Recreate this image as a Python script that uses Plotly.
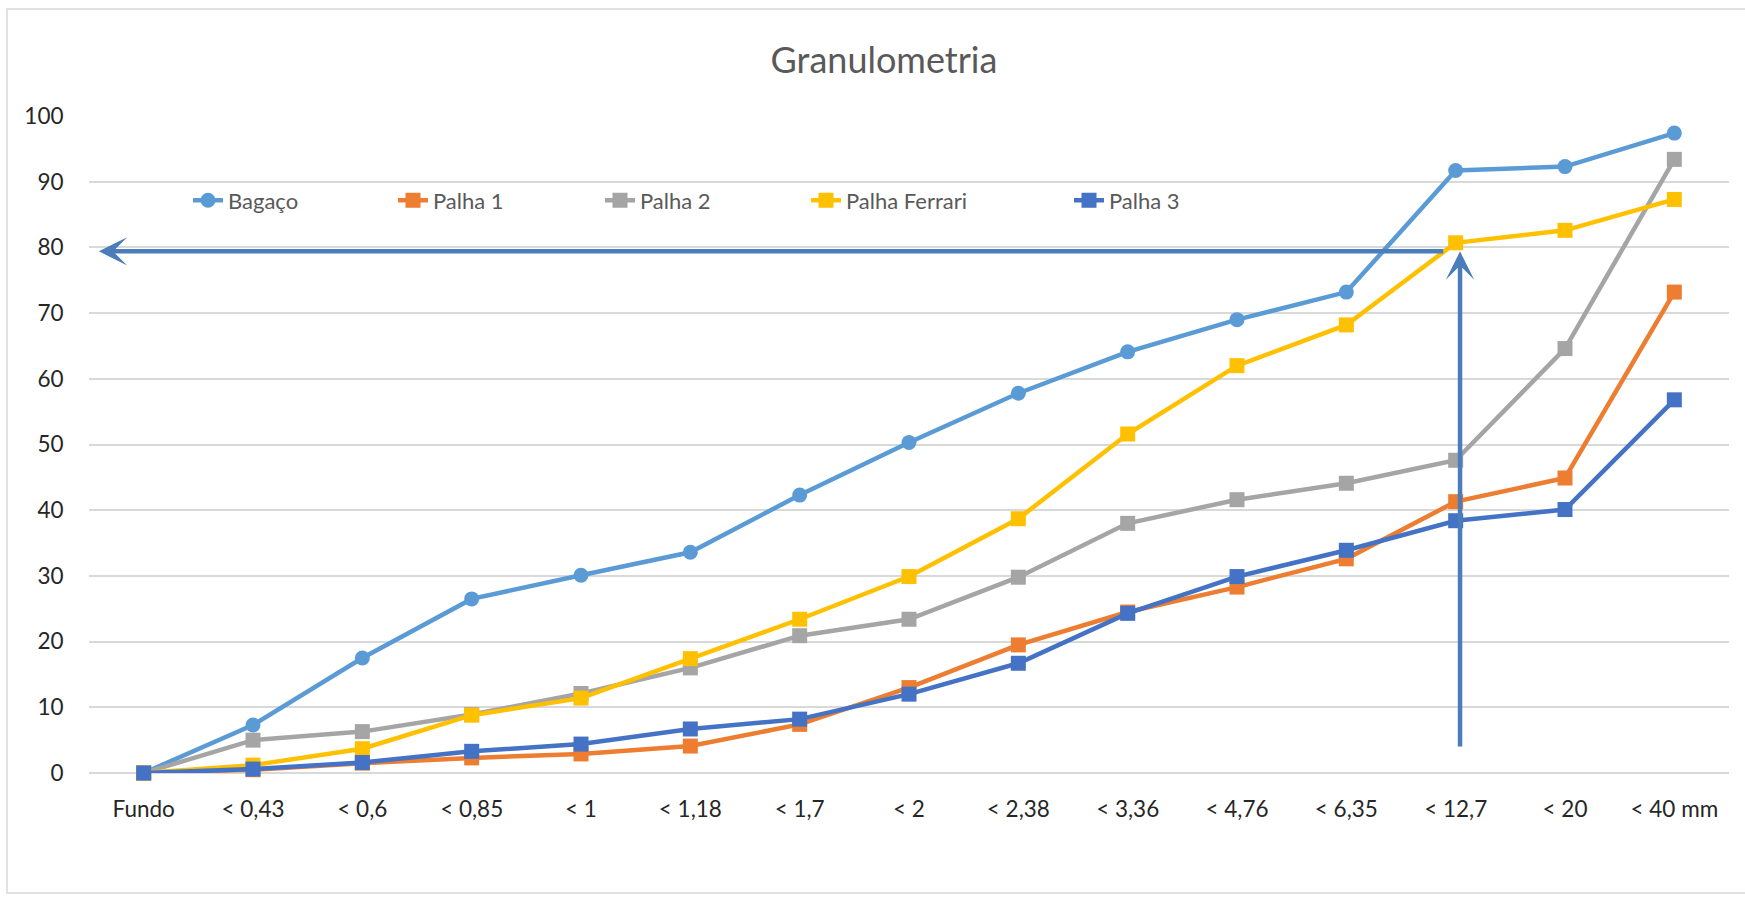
import plotly.graph_objects as go

# Sieve classes (mm) and cumulative passing percentages
categories = ["Fundo", "< 0,43", "< 0,6", "< 0,85", "< 1", "< 1,18", "< 1,7", "< 2",
              "< 2,38", "< 3,36", "< 4,76", "< 6,35", "< 12,7", "< 20", "< 40 mm"]

bagaco = [0, 7.3, 17.5, 26.5, 30.1, 33.6, 42.3, 50.3, 57.8, 64.1, 69.0, 73.2, 91.7, 92.3, 97.4]
palha_1 = [0, 0.5, 1.5, 2.3, 2.9, 4.1, 7.4, 13.0, 19.5, 24.5, 28.3, 32.6, 41.3, 44.9, 73.2]
palha_2 = [0, 5.0, 6.3, 8.9, 12.1, 16.0, 20.9, 23.4, 29.8, 38.0, 41.6, 44.1, 47.6, 64.6, 93.4]
palha_ferrari = [0, 1.2, 3.7, 8.8, 11.4, 17.4, 23.4, 29.9, 38.7, 51.6, 62.0, 68.2, 80.7, 82.6, 87.3]
palha_3 = [0, 0.6, 1.6, 3.3, 4.4, 6.7, 8.2, 12.0, 16.7, 24.3, 29.9, 33.9, 38.4, 40.1, 56.8]

y_ticks = [0, 10, 20, 30, 40, 50, 60, 70, 80, 90, 100]

# Reference reading: 80 % passing at the 12,7 mm sieve
ref_level = 79.4
ref_sieve = 12.04
ref_base = 3.8
ref_left = -0.41
ref_end = 11.9

W, H = 1745, 897
ML, MR, MT, MB = 89, 16, 116, 124
PW, PH = W - ML - MR, H - MT - MB
FONT = "Lato"
x_idx = list(range(len(categories)))


def px_to_paper(px, py):
    """Pixel position in the figure -> paper coordinates of the plot area."""
    return (px - ML) / PW, (H - MB - py) / PH


series = [
    ("Bagaço", bagaco, "#5B9BD5", "circle", "legend", 230),
    ("Palha 1", palha_1, "#ED7D31", "square", "legend2", 435),
    ("Palha 2", palha_2, "#A5A5A5", "square", "legend3", 642),
    ("Palha Ferrari", palha_ferrari, "#FFC000", "square", "legend4", 848),
    ("Palha 3", palha_3, "#4472C4", "square", "legend5", 1111),
]

fig = go.Figure()
legend_layout = {}
for name, vals, color, symbol, leg, text_x in series:
    fig.add_trace(go.Scatter(
        x=x_idx, y=vals, name=name, mode="lines+markers",
        line=dict(color=color, width=4.5),
        marker=dict(symbol=symbol, size=15, color=color),
        cliponaxis=False, legend=leg, showlegend=True,
    ))
    lx, ly = px_to_paper(text_x - 42, 200.5)
    legend_layout[leg] = dict(
        x=lx, xanchor="left", y=ly, yanchor="middle",
        orientation="h", bgcolor="rgba(0,0,0,0)", visible=True,
        font=dict(family=FONT, size=22, color="#595959"),
    )

# Arrows marking the 80 % reading
fig.add_annotation(x=ref_left, y=ref_level, ax=ref_end, ay=ref_level,
                   xref="x", yref="y", axref="x", ayref="y",
                   showarrow=True, arrowhead=3, arrowsize=1.05, arrowwidth=4.5,
                   arrowcolor="#4A7DBA", text="")
fig.add_annotation(x=ref_sieve, y=ref_level, ax=ref_sieve, ay=ref_base,
                   xref="x", yref="y", axref="x", ayref="y",
                   showarrow=True, arrowhead=3, arrowsize=1.05, arrowwidth=4.5,
                   arrowcolor="#4A7DBA", text="")

# Chart frame
fx0, fy0 = px_to_paper(7, 893)
fx1, fy1 = px_to_paper(W + 20, 9)
fig.add_shape(type="rect", xref="paper", yref="paper",
              x0=fx0, x1=fx1, y0=fy0, y1=fy1,
              line=dict(color="#D9D9D9", width=1.5), fillcolor="rgba(0,0,0,0)", layer="below")

tx, ty = 884 / W, 1 - 60 / H
fig.update_layout(
    width=W, height=H,
    margin=dict(l=ML, r=MR, t=MT, b=MB),
    paper_bgcolor="white", plot_bgcolor="white",
    showlegend=True,
    title=dict(text="Granulometria", x=tx, xanchor="center", y=ty, yanchor="middle",
               xref="container", yref="container",
               font=dict(family=FONT, size=36, color="#595959")),
    font=dict(family=FONT),
    **legend_layout,
)
fig.update_xaxes(
    range=[-0.5, 14.5], tickmode="array", tickvals=x_idx, ticktext=categories,
    showgrid=False, zeroline=False, showline=False,
    ticks="outside", ticklen=16, tickcolor="rgba(0,0,0,0)",
    tickfont=dict(family=FONT, size=22.5, color="#262626"),
)
fig.update_yaxes(
    range=[0, 100], tickmode="array", tickvals=y_ticks,
    showgrid=True, gridcolor="#D9D9D9", gridwidth=1.5,
    zeroline=True, zerolinecolor="#D9D9D9", zerolinewidth=1.5, showline=False,
    ticks="outside", ticklen=20, tickcolor="rgba(0,0,0,0)",
    tickfont=dict(family=FONT, size=22.5, color="#262626"),
)

fig.write_html("out.html")
